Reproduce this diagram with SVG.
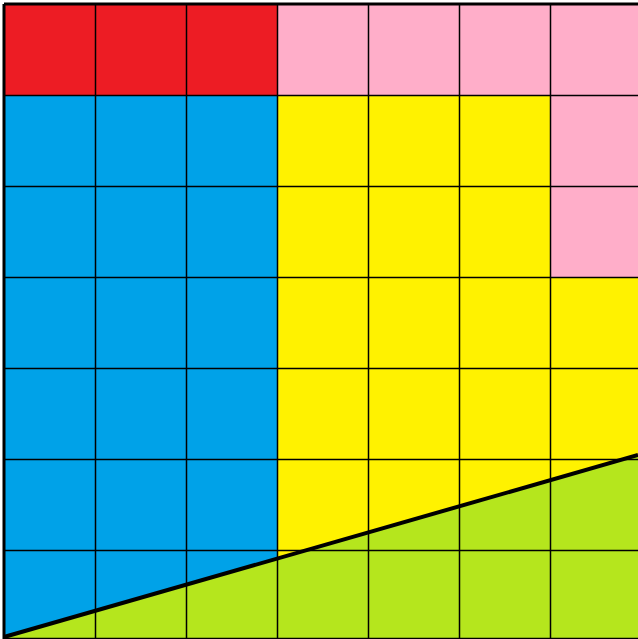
<svg xmlns="http://www.w3.org/2000/svg" width="638" height="639" viewBox="0 0 638 639">
<style>
.g{stroke:#000;stroke-width:1.5;fill:none}
</style>
<rect width="638" height="639" fill="#fff"/>
<g id="regions">
<rect id="red" x="4" y="4" width="273.5" height="91.5" fill="#ED1C24"/>
<polygon id="pink" points="277.5,4 638,4 638,277.5 550.5,277.5 550.5,95.5 277.5,95.5" fill="#FFAEC9"/>
<rect id="blue" x="4" y="95.5" width="273.5" height="545" fill="#00A2E8"/>
<polygon id="yellow" points="277.5,95.5 550.5,95.5 550.5,277.5 638,277.5 638,639 277.5,639" fill="#FFF200"/>
<polygon id="green" points="4,637 638,455 638,639 4,639" fill="#B5E61D"/>
</g>
<g id="grid" class="g">
<path d="M95.5,4V639M186.5,4V639M277.5,4V639M368.5,4V639M459.5,4V639M550.5,4V639"/>
<path d="M4,95.5H638M4,186.5H638M4,277.5H638M4,368.5H638M4,459.5H638M4,550.5H638M4,638.5H638"/>
</g>
<g id="connectors">
<path d="M4,4H638M4,4V639" stroke="#000" stroke-width="3" fill="none"/>
<line x1="4" y1="637" x2="638" y2="455" stroke="#000" stroke-width="4"/>
</g>
</svg>
